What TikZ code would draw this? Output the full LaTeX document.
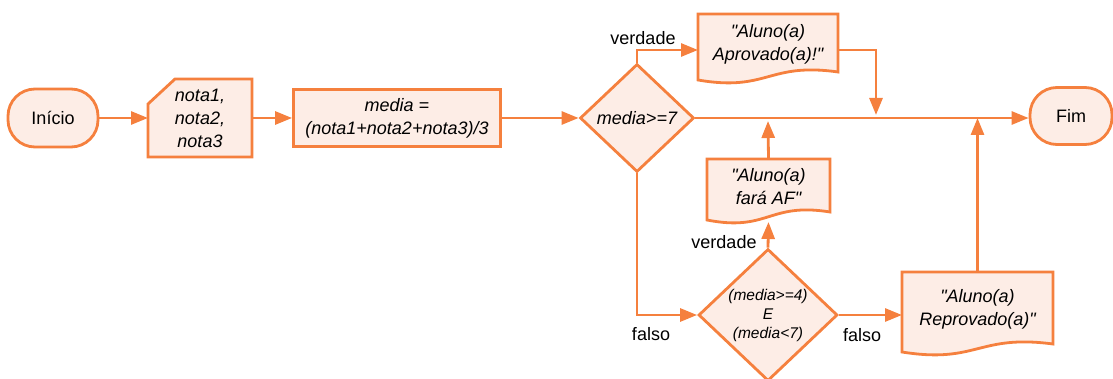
\documentclass[tikz,border=0pt]{standalone}
\usepackage{fontspec}
\setmainfont{Liberation Sans}[Ligatures=TeXOff]
\usetikzlibrary{arrows.meta,shapes.geometric,calc,backgrounds}
\definecolor{flowline}{RGB}{245,128,62}
\definecolor{flowfill}{RGB}{253,237,230}

\begin{document}
\begin{tikzpicture}[x=1pt,y=-1pt,
  txt/.style={font=\fontsize{18}{23}\selectfont},
  itxt/.style={font=\fontsize{18}{23}\selectfont\itshape},
  base/.style={line width=2.8pt, draw=flowline, fill=flowfill},
  terminal/.style={base, txt, rectangle, rounded corners=27pt, minimum width=90pt,
    minimum height=58pt, inner sep=0pt},
  process/.style={base, itxt, rectangle, minimum width=207pt, minimum height=57pt,
    inner sep=0pt, align=center},
  decision/.style={base, itxt, diamond, inner sep=0pt, align=center},
  shapetext/.style={itxt, inner sep=0pt, outer sep=0pt, align=center},
  outline/.style={line width=2.8pt, draw=flowline, fill=flowfill, line join=miter},
  flow/.style={line width=2.8pt, draw=flowline, -{Triangle[length=17pt,width=13pt]}},
  tag/.style={txt, inner sep=0pt}
]
\useasboundingbox (0,0) rectangle (1113,379);

% main chain
\node[terminal] (inicio) at (53,118) {Início};
\node[shapetext, minimum width=104pt, minimum height=78pt] (entrada) at (200,118)
  {nota1,\\nota2,\\nota3};
\node[process] (calc) at (397,118) {media =\\(nota1+nota2+nota3)/3};
\node[decision, minimum width=114pt, minimum height=108pt] (dec1) at (637,118) {media>=7};
\node[terminal, minimum width=82pt, minimum height=57pt] (fim) at (1071,116) {Fim};

% outputs
\node[shapetext, minimum width=140pt, minimum height=60pt] (aprov) at (768,44)
  {"Aluno(a)\\Aprovado(a)!"};
\node[shapetext, minimum width=123pt, minimum height=55pt] (farAF) at (768.5,186.5)
  {"Aluno(a)\\fará AF"};
\node[shapetext, minimum width=151pt, minimum height=74pt] (reprov) at (977.5,309)
  {"Aluno(a)\\Reprovado(a)"};

% second decision
\node[decision, minimum width=139pt, minimum height=132pt,
  font=\fontsize{15.5}{19}\selectfont\itshape] (dec2) at (768,315)
  {(media>=4)\\E\\(media<7)};

% outlines of the input and document shapes
\begin{scope}[on background layer]
  \draw[outline] ($(entrada.north west)+(0,25)$) -- ($(entrada.north west)+(27,0)$)
    -- (entrada.north east) -- (entrada.south east) -- (entrada.south west) -- cycle;
  \foreach \d in {aprov,farAF,reprov}
    \draw[outline] (\d.north west) -- (\d.north east) -- ($(\d.south east)+(0,-2)$)
      .. controls ($(\d.south)+(0,-12)$) and ($(\d.south)+(0,18)$)
      .. ($(\d.south west)+(0,6)$) -- cycle;
\end{scope}

% junction points on the main line
\coordinate (j1) at (876,115);
\coordinate (j2) at (768,121);
\coordinate (j3) at (977.5,118);

% connectors
\draw[flow] (inicio) -- (entrada);
\draw[flow] (entrada) -- (calc);
\draw[flow] (calc) -- (dec1);
\draw[flow] (dec1.east) -- (dec1.east -| fim.west);
\draw[flow] (dec1.north) |- ([yshift=-6pt]aprov.west);
\draw[flow] ([yshift=-6pt]aprov.east) -| (j1);
\draw[flow] (dec1.south) |- (dec2.west);
\draw[flow] (dec2.north) -- ([yshift=-8pt]farAF.south);
\draw[flow] (farAF.north) -- (j2);
\draw[flow] (dec2.east) -- (dec2.east -| reprov.west);
\draw[flow] (reprov.north) -- (j3);

% branch labels
\node[tag] (v1) at (643,38) {verdade};
\node[tag] (f1) at (651,334) {falso};
\node[tag] (v2) at (724,242) {verdade};
\node[tag] (f2) at (862,335) {falso};
\end{tikzpicture}
\end{document}
